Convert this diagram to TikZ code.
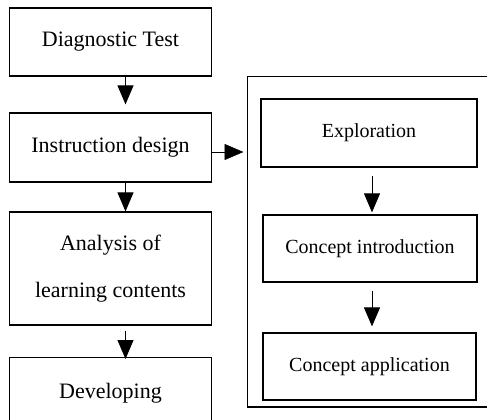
\documentclass[tikz,border=0pt]{standalone}
\usepackage{fontspec}
\setmainfont{Liberation Serif}
\usetikzlibrary{arrows.meta,calc}

\begin{document}
\begin{tikzpicture}[x=1pt,y=-1pt,
  stage/.style={draw,line width=1.2pt,inner sep=0pt,minimum width=202pt,
    font=\fontsize{22}{47}\selectfont,align=center},
  phase/.style={draw,line width=1.2pt,inner sep=0pt,minimum height=68pt,
    font=\fontsize{20}{24}\selectfont},
  flow/.style={line width=0.9pt,-{Triangle[width=16pt,length=19pt]}}]
  \clip (0,0) rectangle (487,420);
  \useasboundingbox (0,0) rectangle (487,420);

  % left column of stages
  \node[stage,minimum height=68pt]  (diag) at (110.5,42)    {Diagnostic Test};
  \node[stage,minimum height=69pt]  (inst) at (110.5,147.5) {Instruction design};
  \node[stage,minimum height=113pt] (anal) at (110.5,268.5) {Analysis of\\learning contents};
  \node[stage,minimum height=80pt,anchor=north] (dev) at (110.5,357) {};
  \node[font=\fontsize{22}{26}\selectfont] (devtext) at (110.5,393) {Developing};

  % frame holding the instruction phases (runs past the right edge)
  \coordinate (frameW) at (247.5,152);
  \draw[line width=1.5pt] (520,76.5) -- (247.5,76.5) -- (247.5,407) -- (520,407);

  % instruction phases
  \node[phase,minimum width=216pt] (expl) at (369,133)    {Exploration};
  \node[phase,minimum width=214pt,minimum height=67pt] (intro) at (370,248.5) {Concept introduction};
  \node[phase,minimum width=213pt,minimum height=67pt] (appl) at (369.5,366.5) {Concept application};

  % connectors
  \draw[flow,shorten >=8pt] ($(diag.south)+(15,0)$) -- ($(inst.north)+(15,0)$);
  \draw[flow] ($(inst.south)+(15,0)$) -- ($(anal.north)+(15,0)$);
  \draw[flow,shorten <=5pt,shorten >=-2pt] ($(anal.south)+(15,0)$) -- ($(dev.north)+(15,0)$);
  \draw[flow,shorten >=4pt] (inst.east |- frameW) -- (frameW);
  \draw[flow,shorten <=8pt,shorten >=2pt] ($(expl.south)+(3,0)$) -- ($(intro.north)+(2,0)$);
  \draw[flow,shorten <=8pt,shorten >=6pt] ($(intro.south)+(2,0)$) -- ($(appl.north)+(2.5,0)$);
\end{tikzpicture}
\end{document}
